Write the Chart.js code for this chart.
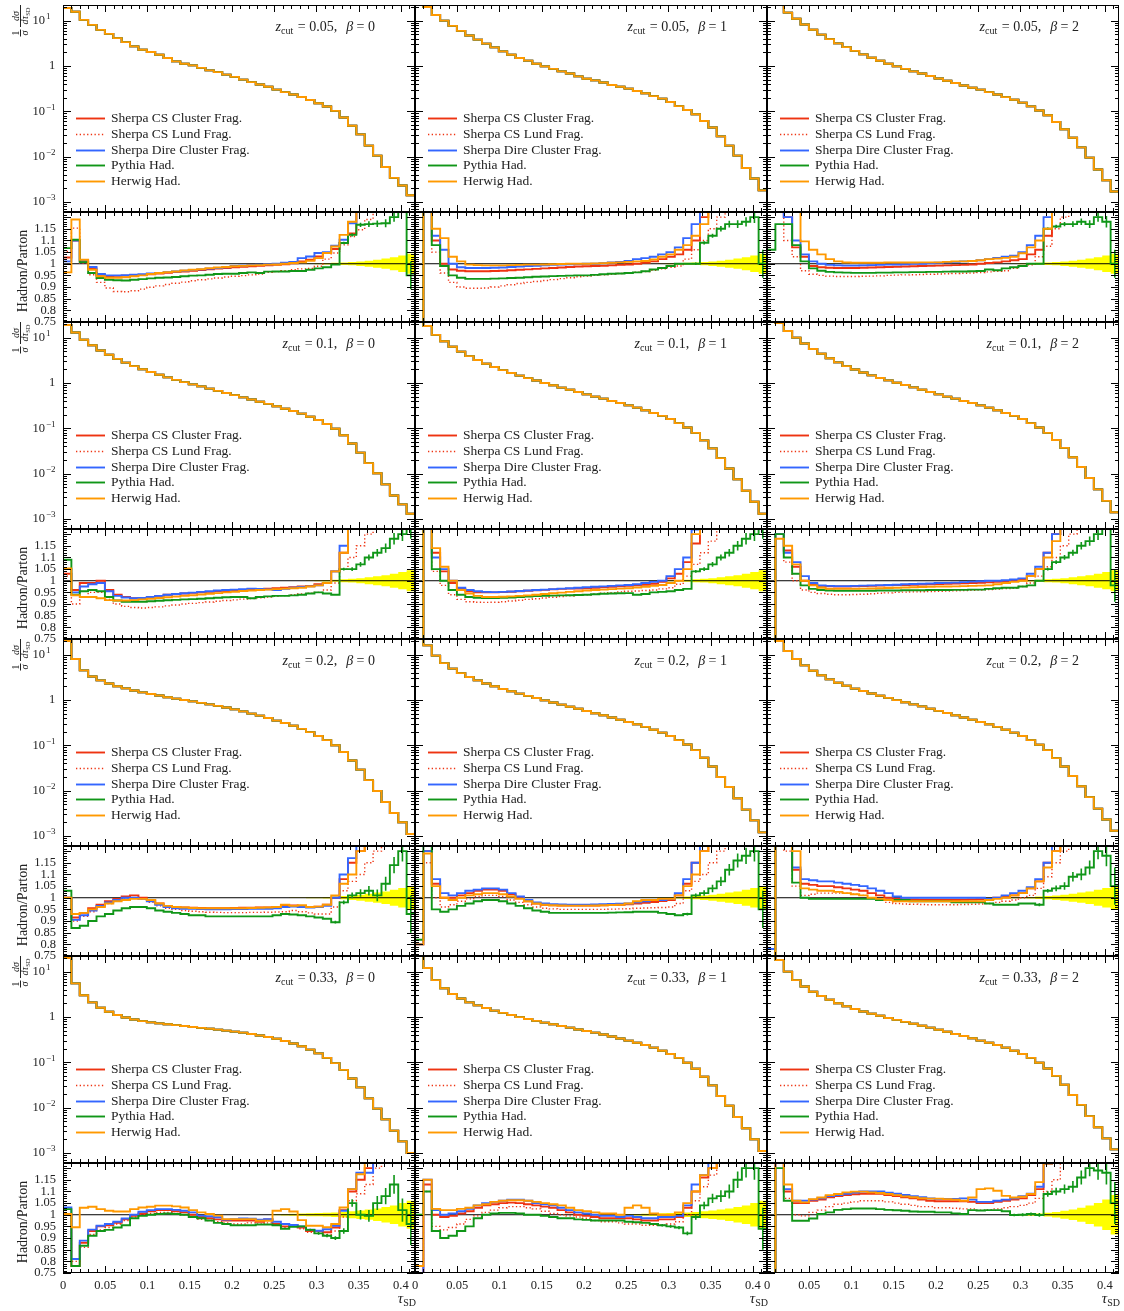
<!DOCTYPE html>
<html><head><meta charset="utf-8">
<script src="https://cdn.jsdelivr.net/npm/chart.js@4/dist/chart.umd.min.js"></script>
<style>
html,body{margin:0;padding:0;background:#fff;}
body{width:1124px;height:1311px;position:relative;overflow:hidden;}
canvas{position:absolute;}
</style></head><body>
<script>
// ---------------- categories / labels ----------------
const TAU_MAX = 0.41667;
const N_BINS = 42;
const zcutLabels = ['0.05', '0.1', '0.2', '0.33'];
const betaLabels = ['0', '1', '2'];
const seriesNames = ['Sherpa CS Cluster Frag.', 'Sherpa CS Lund Frag.', 'Sherpa Dire Cluster Frag.', 'Pythia Had.', 'Herwig Had.'];
const xTickLabels = ['0', '0.05', '0.1', '0.15', '0.2', '0.25', '0.3', '0.35', '0.4'];
const xTickValues = [0, 0.05, 0.1, 0.15, 0.2, 0.25, 0.3, 0.35, 0.4];
const ratioTickValues = [0.75, 0.8, 0.85, 0.9, 0.95, 1, 1.05, 1.1, 1.15];
const ratioTickLabels = ['0.75', '0.8', '0.85', '0.9', '0.95', '1', '1.05', '1.1', '1.15'];
const mainTickValues = [10, 1, 0.1, 0.01, 0.001];
const mainTickExp = ['1', '', '\u22121', '\u22122', '\u22123'];

// ---------------- main distributions (1/sigma dsigma/dtau) ----------------
const m005_0 = [19,15.7,10.4,8.05,6.26,5.1,4.1,3.36,2.7,2.28,2.03,1.77,1.5,1.26,1.12,1.03,0.905,0.8,0.73,0.645,0.575,0.5,0.44,0.39,0.347,0.3,0.265,0.235,0.206,0.177,0.15,0.127,0.102,0.073,0.048,0.031,0.0175,0.0105,0.0059,0.0034,0.0023,0.0014];
const m005_1 = [25,20,13.3,10,7.65,5.95,4.7,3.8,3.1,2.57,2.1,1.77,1.5,1.31,1.12,0.98,0.86,0.76,0.68,0.59,0.52,0.48,0.43,0.38,0.347,0.316,0.28,0.25,0.216,0.19,0.16,0.13,0.107,0.086,0.061,0.044,0.028,0.0175,0.0105,0.0056,0.0033,0.0018];
const m005_2 = [30,22,15,11,8.2,6.3,4.9,3.9,3.15,2.6,2.15,1.8,1.52,1.3,1.12,0.98,0.86,0.76,0.68,0.6,0.53,0.47,0.42,0.37,0.33,0.3,0.265,0.235,0.205,0.18,0.155,0.128,0.104,0.082,0.058,0.04,0.026,0.016,0.0095,0.0052,0.003,0.0017];
const m01_0 = [19,13,9,6.8,5.2,4.2,3.4,2.8,2.35,2,1.75,1.52,1.33,1.17,1.04,0.93,0.84,0.75,0.67,0.6,0.54,0.48,0.43,0.385,0.345,0.305,0.27,0.24,0.21,0.18,0.152,0.124,0.098,0.07,0.046,0.029,0.017,0.0102,0.0058,0.0033,0.0021,0.0013];
const m01_1 = [25,18,11.5,8.3,6.3,4.9,3.9,3.2,2.65,2.25,1.92,1.66,1.45,1.28,1.13,1,0.89,0.79,0.71,0.63,0.56,0.5,0.45,0.4,0.36,0.32,0.285,0.25,0.218,0.188,0.16,0.13,0.104,0.079,0.054,0.036,0.022,0.013,0.0075,0.0042,0.0024,0.0013];
const m01_2 = [30,21,14,10,7.4,5.6,4.4,3.5,2.85,2.35,1.98,1.7,1.47,1.29,1.14,1.01,0.9,0.8,0.71,0.63,0.56,0.5,0.45,0.4,0.36,0.32,0.285,0.25,0.218,0.188,0.16,0.13,0.104,0.079,0.055,0.037,0.023,0.014,0.008,0.0045,0.0025,0.0014];
const m02_0 = [20,8,4.5,3.3,2.7,2.3,2,1.8,1.62,1.47,1.35,1.25,1.15,1.07,1,0.93,0.86,0.8,0.74,0.68,0.62,0.56,0.5,0.45,0.4,0.35,0.31,0.27,0.23,0.195,0.16,0.13,0.1,0.071,0.046,0.029,0.017,0.0098,0.0056,0.0032,0.002,0.0011];
const m02_1 = [25,16,9.5,6.5,4.9,3.9,3.2,2.7,2.3,2,1.75,1.55,1.38,1.23,1.1,0.98,0.88,0.79,0.71,0.64,0.57,0.51,0.46,0.41,0.365,0.325,0.29,0.255,0.22,0.19,0.16,0.13,0.104,0.078,0.053,0.034,0.02,0.012,0.0068,0.0038,0.0022,0.0012];
const m02_2 = [30,20,12,8,5.8,4.4,3.5,2.85,2.4,2.05,1.78,1.57,1.39,1.24,1.11,0.99,0.89,0.8,0.72,0.64,0.575,0.515,0.46,0.41,0.365,0.325,0.29,0.255,0.22,0.19,0.16,0.13,0.103,0.078,0.052,0.034,0.021,0.0125,0.0072,0.004,0.0023,0.0013];
const m033_0 = [20,5.5,3,2.1,1.6,1.3,1.1,0.97,0.88,0.81,0.76,0.72,0.69,0.66,0.63,0.6,0.575,0.55,0.525,0.5,0.475,0.45,0.42,0.39,0.36,0.33,0.295,0.26,0.225,0.19,0.157,0.125,0.096,0.068,0.044,0.028,0.016,0.0095,0.0055,0.0031,0.0018,0.001];
const m033_1 = [25,12,6.5,4.3,3.2,2.55,2.1,1.8,1.57,1.38,1.23,1.1,0.99,0.9,0.82,0.75,0.69,0.63,0.58,0.53,0.49,0.45,0.41,0.37,0.335,0.3,0.27,0.24,0.21,0.18,0.152,0.125,0.098,0.072,0.048,0.031,0.018,0.011,0.0062,0.0035,0.002,0.0011];
const m033_2 = [30,18,10,6.5,4.7,3.6,2.9,2.4,2,1.72,1.5,1.32,1.18,1.06,0.95,0.86,0.78,0.71,0.64,0.58,0.52,0.47,0.42,0.38,0.34,0.3,0.27,0.24,0.21,0.18,0.152,0.125,0.098,0.073,0.05,0.032,0.019,0.0115,0.0065,0.0037,0.0021,0.0012];

// ---------------- ratios Hadron/Parton ----------------
// z_cut = 0.05, beta = 0
const r005_0_csc = [1.027,1.10,1.01,0.98,0.953,0.946,0.948,0.949,0.95,0.952,0.955,0.958,0.961,0.964,0.967,0.97,0.973,0.976,0.979,0.982,0.985,0.987,0.989,0.991,0.993,0.995,0.998,1.002,1.01,1.017,1.031,1.046,1.063,1.089,1.13,1.3,1.3,1.3,1.3,1.3,1.3,1.3];
const r005_0_csl = [1.053,1.153,1.003,0.953,0.92,0.896,0.881,0.88,0.884,0.891,0.899,0.905,0.911,0.916,0.921,0.927,0.931,0.935,0.939,0.943,0.946,0.949,0.952,0.956,0.963,0.966,0.97,0.974,0.978,0.98,0.989,1.02,1.046,1.081,1.117,1.146,1.19,1.3,1.3,1.3,1.3,1.3];
const r005_0_dire = [1.01,1.10,1.014,0.986,0.956,0.95,0.95,0.951,0.953,0.955,0.958,0.961,0.964,0.967,0.97,0.973,0.976,0.979,0.982,0.985,0.99,0.992,0.994,0.996,0.998,1.0,1.004,1.008,1.024,1.031,1.046,1.05,1.077,1.103,1.174,1.3,1.3,1.3,1.3,1.3,1.3,1.3];
const r005_0_py = [1.067,1.103,1.007,0.96,0.939,0.931,0.929,0.928,0.931,0.934,0.937,0.94,0.941,0.943,0.946,0.949,0.95,0.953,0.956,0.957,0.957,0.96,0.963,0.96,0.966,0.967,0.967,0.969,0.969,0.974,0.98,0.985,0.996,1.089,1.124,1.167,1.17,1.172,1.174,1.2,1.25,0.95];
const r005_0_hw = [0.963,1.19,1.017,0.974,0.946,0.94,0.94,0.942,0.946,0.95,0.956,0.96,0.964,0.967,0.971,0.974,0.977,0.981,0.984,0.986,0.989,0.991,0.993,0.994,0.996,0.997,1.0,1.003,1.006,1.013,1.024,1.046,1.074,1.124,1.18,1.3,1.3,1.3,1.3,1.3,1.3,1.3];
// z_cut = 0.05, beta = 1
const r005_1_csc = [0.7,1.3,1.1,1.0,0.975,0.97,0.968,0.968,0.968,0.969,0.97,0.972,0.974,0.976,0.978,0.98,0.982,0.984,0.986,0.988,0.989,0.99,0.991,0.993,0.995,0.997,1.0,1.004,1.01,1.02,1.03,1.04,1.06,1.1,1.2,1.3,1.3,1.3,1.3,1.3,1.3,1.3];
const r005_1_csl = [0.7,1.3,1.05,0.96,0.92,0.9,0.895,0.895,0.896,0.9,0.905,0.91,0.915,0.92,0.924,0.928,0.932,0.936,0.94,0.944,0.947,0.95,0.953,0.955,0.958,0.961,0.964,0.967,0.972,0.978,0.985,0.99,1.02,1.06,1.1,1.15,1.2,1.3,1.3,1.3,1.3,1.3];
const r005_1_dire = [0.7,1.3,1.12,1.06,1.0,0.985,0.982,0.982,0.982,0.983,0.984,0.986,0.988,0.99,0.991,0.993,0.995,0.996,0.998,0.999,1.0,1.0,1.002,1.005,1.008,1.012,1.02,1.024,1.03,1.04,1.05,1.07,1.11,1.17,1.3,1.3,1.3,1.3,1.3,1.3,1.3,1.3];
const r005_1_py = [0.7,1.3,1.08,0.99,0.95,0.94,0.935,0.935,0.935,0.936,0.937,0.939,0.94,0.942,0.944,0.945,0.947,0.948,0.949,0.95,0.95,0.952,0.955,0.957,0.958,0.96,0.963,0.968,0.975,0.982,0.99,1.0,1.0,1.0,1.09,1.12,1.15,1.17,1.17,1.18,1.2,1.0];
const r005_1_hw = [0.7,1.3,1.15,1.11,1.03,1.01,0.996,0.994,0.993,0.993,0.993,0.994,0.995,0.996,0.996,0.997,0.998,0.999,1.0,1.0,1.0,1.001,1.002,1.004,1.006,1.008,1.01,1.012,1.018,1.03,1.04,1.06,1.08,1.12,1.17,1.3,1.3,1.3,1.3,1.3,1.3,1.3];
// z_cut = 0.05, beta = 2
const r005_2_csc = [1.3,1.3,1.2,1.07,1.03,0.99,0.985,0.983,0.982,0.982,0.982,0.983,0.984,0.985,0.986,0.987,0.988,0.989,0.99,0.991,0.992,0.993,0.994,0.995,0.997,1.0,1.003,1.006,1.01,1.015,1.02,1.04,1.06,1.12,1.3,1.3,1.3,1.3,1.3,1.3,1.3,1.3];
const r005_2_csl = [1.3,1.3,1.1,1.03,0.97,0.955,0.95,0.947,0.945,0.945,0.945,0.946,0.947,0.948,0.95,0.951,0.952,0.953,0.954,0.955,0.956,0.957,0.958,0.959,0.96,0.962,0.965,0.968,0.97,0.98,0.99,0.995,1.03,1.075,1.15,1.2,1.3,1.3,1.3,1.3,1.3,1.3];
const r005_2_dire = [1.3,1.3,1.2,1.1,1.04,1.01,1.0,0.995,0.993,0.992,0.992,0.993,0.994,0.995,0.996,0.997,0.998,1.0,1.0,1.002,1.004,1.006,1.008,1.01,1.012,1.015,1.02,1.025,1.03,1.035,1.05,1.08,1.12,1.2,1.3,1.3,1.3,1.3,1.3,1.3,1.3,1.3];
const r005_2_py = [1.06,1.17,1.17,1.08,1.01,0.98,0.97,0.965,0.963,0.962,0.961,0.961,0.961,0.962,0.962,0.963,0.963,0.964,0.964,0.965,0.965,0.966,0.967,0.967,0.968,0.969,0.975,0.972,0.98,0.985,0.99,1.0,1.0,1.15,1.16,1.17,1.17,1.18,1.17,1.2,1.18,1.0];
const r005_2_hw = [1.3,1.3,1.3,1.3,1.096,1.06,1.04,1.02,1.01,1.005,1.004,1.004,1.004,1.004,1.005,1.005,1.005,1.005,1.006,1.006,1.006,1.008,1.01,1.01,1.012,1.015,1.02,1.022,1.025,1.03,1.045,1.07,1.1,1.15,1.3,1.3,1.3,1.3,1.3,1.3,1.3,1.3];
// z_cut = 0.1, beta = 0
const r01_0_csc = [1.03,0.96,0.99,0.99,1.0,0.96,0.94,0.93,0.925,0.925,0.93,0.935,0.94,0.942,0.945,0.948,0.95,0.952,0.955,0.956,0.958,0.96,0.962,0.964,0.966,0.968,0.97,0.972,0.975,0.978,0.985,0.99,1.04,1.12,1.3,1.3,1.3,1.3,1.3,1.3,1.3,1.3];
const r01_0_csl = [1.02,0.9,0.93,0.95,0.95,0.92,0.9,0.89,0.885,0.883,0.885,0.888,0.892,0.896,0.9,0.903,0.906,0.909,0.912,0.915,0.918,0.921,0.924,0.927,0.93,0.933,0.936,0.94,0.943,0.946,0.95,0.96,0.99,1.05,1.1,1.15,1.2,1.3,1.3,1.3,1.3,1.3];
const r01_0_dire = [1.05,0.95,0.975,0.985,0.99,0.955,0.935,0.928,0.925,0.926,0.93,0.935,0.94,0.943,0.946,0.949,0.952,0.955,0.958,0.96,0.962,0.964,0.966,0.965,0.963,0.96,0.965,0.97,0.973,0.976,0.98,0.99,1.04,1.15,1.3,1.3,1.3,1.3,1.3,1.3,1.3,1.3];
const r01_0_py = [1.09,0.94,0.955,0.96,0.955,0.93,0.915,0.91,0.91,0.91,0.912,0.914,0.916,0.918,0.92,0.921,0.923,0.925,0.927,0.929,0.93,0.93,0.925,0.93,0.933,0.935,0.935,0.937,0.94,0.945,0.95,0.945,0.94,1.05,1.05,1.07,1.1,1.12,1.14,1.18,1.2,1.25];
const r01_0_hw = [1.053,0.938,0.93,0.93,0.925,0.917,0.915,0.915,0.917,0.92,0.923,0.926,0.929,0.932,0.935,0.938,0.941,0.944,0.947,0.95,0.953,0.956,0.958,0.96,0.962,0.964,0.966,0.968,0.97,0.975,0.98,0.99,1.04,1.12,1.3,1.3,1.3,1.3,1.3,1.3,1.3,1.3];
// z_cut = 0.1, beta = 1
const r01_1_csc = [0.7,1.3,1.12,1.04,0.99,0.965,0.955,0.95,0.95,0.95,0.951,0.953,0.955,0.957,0.959,0.961,0.963,0.965,0.966,0.967,0.968,0.97,0.972,0.974,0.976,0.978,0.98,0.983,0.987,0.995,1.01,1.03,1.08,1.16,1.3,1.3,1.3,1.3,1.3,1.3,1.3,1.3];
const r01_1_csl = [0.7,1.3,1.04,0.98,0.94,0.92,0.91,0.908,0.907,0.908,0.91,0.913,0.916,0.92,0.923,0.926,0.929,0.932,0.935,0.938,0.94,0.943,0.946,0.949,0.952,0.955,0.956,0.958,0.96,0.965,0.97,0.985,1.02,1.07,1.12,1.17,1.3,1.3,1.3,1.3,1.3,1.3];
const r01_1_dire = [0.7,1.3,1.1,1.05,1.0,0.97,0.96,0.955,0.952,0.951,0.952,0.954,0.956,0.958,0.96,0.962,0.964,0.966,0.968,0.97,0.972,0.974,0.976,0.978,0.98,0.982,0.985,0.99,0.995,1.0,1.02,1.05,1.1,1.22,1.3,1.3,1.3,1.3,1.3,1.3,1.3,1.3];
const r01_1_py = [0.7,1.3,1.05,1.0,0.96,0.94,0.93,0.927,0.926,0.926,0.927,0.928,0.93,0.932,0.934,0.935,0.936,0.937,0.938,0.939,0.94,0.942,0.944,0.945,0.946,0.947,0.94,0.943,0.95,0.952,0.955,0.96,0.965,1.04,1.05,1.07,1.1,1.12,1.15,1.18,1.2,1.25];
const r01_1_hw = [0.7,1.3,1.14,1.06,1.0,0.96,0.945,0.935,0.93,0.93,0.931,0.933,0.935,0.937,0.94,0.943,0.946,0.949,0.952,0.955,0.958,0.96,0.962,0.964,0.966,0.968,0.971,0.974,0.978,0.982,0.99,1.0,1.05,1.2,1.3,1.3,1.3,1.3,1.3,1.3,1.3,1.3];
// z_cut = 0.1, beta = 2
const r01_2_csc = [0.7,1.2,1.13,1.06,1.0,0.985,0.978,0.976,0.975,0.975,0.976,0.977,0.978,0.979,0.98,0.981,0.982,0.983,0.984,0.985,0.986,0.987,0.988,0.989,0.99,0.991,0.993,0.995,0.997,1.0,1.005,1.02,1.05,1.12,1.2,1.3,1.3,1.3,1.3,1.3,1.3,1.3];
const r01_2_csl = [0.7,1.2,1.08,1.0,0.96,0.95,0.945,0.942,0.94,0.94,0.941,0.942,0.944,0.946,0.948,0.95,0.951,0.952,0.953,0.954,0.955,0.956,0.957,0.958,0.959,0.96,0.962,0.964,0.966,0.968,0.975,0.99,1.02,1.06,1.1,1.15,1.2,1.3,1.3,1.3,1.3,1.3];
const r01_2_dire = [0.7,1.2,1.12,1.08,1.02,0.99,0.98,0.978,0.977,0.977,0.978,0.979,0.98,0.981,0.982,0.983,0.985,0.986,0.987,0.988,0.99,0.991,0.992,0.994,0.996,0.998,1.0,1.0,1.002,1.005,1.01,1.03,1.06,1.12,1.2,1.3,1.3,1.3,1.3,1.3,1.3,1.3];
const r01_2_py = [0.75,1.2,1.1,1.03,0.98,0.965,0.96,0.958,0.957,0.957,0.957,0.957,0.957,0.958,0.958,0.958,0.959,0.959,0.959,0.96,0.96,0.96,0.961,0.961,0.962,0.962,0.965,0.968,0.97,0.97,0.975,0.98,1.0,1.05,1.08,1.1,1.12,1.15,1.17,1.2,1.25,0.98];
const r01_2_hw = [0.7,1.18,1.15,1.07,1.0,0.98,0.97,0.965,0.965,0.965,0.965,0.966,0.967,0.968,0.969,0.97,0.971,0.972,0.973,0.974,0.975,0.975,0.976,0.977,0.978,0.979,0.98,0.985,0.99,0.995,1.0,1.02,1.05,1.1,1.17,1.3,1.3,1.3,1.3,1.3,1.3,1.3];
// z_cut = 0.2, beta = 0
const r02_0_csc = [1.0,0.915,0.935,0.955,0.97,0.985,0.995,1.005,1.01,1.0,0.99,0.975,0.965,0.96,0.958,0.957,0.956,0.955,0.955,0.955,0.956,0.957,0.957,0.958,0.958,0.96,0.965,0.967,0.965,0.96,0.962,0.97,1.0,1.08,1.15,1.2,1.3,1.3,1.3,1.3,1.3,1.3];
const r02_0_csl = [1.0,0.9,0.92,0.94,0.96,0.975,0.99,1.0,1.0,0.995,0.98,0.965,0.955,0.95,0.945,0.942,0.94,0.938,0.937,0.936,0.936,0.936,0.937,0.937,0.938,0.939,0.94,0.945,0.94,0.935,0.93,0.93,0.96,1.03,1.07,1.1,1.15,1.2,1.3,1.3,1.3,1.3];
const r02_0_dire = [1.0,0.905,0.925,0.945,0.965,0.98,0.99,1.0,1.0,0.995,0.985,0.97,0.96,0.955,0.953,0.952,0.951,0.95,0.95,0.95,0.951,0.951,0.952,0.952,0.953,0.955,0.96,0.962,0.96,0.958,0.96,0.965,1.0,1.1,1.17,1.3,1.3,1.3,1.3,1.3,1.3,1.3];
const r02_0_py = [1.03,0.87,0.88,0.9,0.92,0.93,0.945,0.955,0.96,0.96,0.955,0.945,0.94,0.935,0.93,0.925,0.925,0.92,0.92,0.92,0.92,0.92,0.92,0.92,0.92,0.925,0.93,0.928,0.925,0.92,0.915,0.91,0.895,0.98,1.01,1.02,1.03,1.01,1.06,1.14,1.2,0.93];
const r02_0_hw = [1.0,0.93,0.935,0.95,0.96,0.975,0.985,0.99,0.995,0.995,0.99,0.975,0.965,0.96,0.958,0.956,0.955,0.955,0.955,0.955,0.955,0.955,0.956,0.957,0.958,0.96,0.97,0.965,0.968,0.96,0.962,0.97,1.01,1.06,1.1,1.2,1.3,1.3,1.3,1.3,1.3,1.3];
// z_cut = 0.2, beta = 1
const r02_1_csc = [0.8,1.2,1.06,1.0,1.0,1.01,1.02,1.03,1.035,1.035,1.03,1.015,1.0,0.985,0.975,0.97,0.968,0.967,0.966,0.966,0.966,0.967,0.968,0.969,0.97,0.972,0.975,0.978,0.982,0.986,0.99,1.01,1.06,1.15,1.2,1.3,1.3,1.3,1.3,1.3,1.3,1.3];
const r02_1_csl = [0.8,1.15,1.0,0.96,0.97,0.985,0.995,1.005,1.01,1.01,1.005,0.99,0.98,0.97,0.96,0.955,0.952,0.95,0.95,0.95,0.95,0.95,0.95,0.951,0.952,0.953,0.955,0.956,0.957,0.958,0.96,0.975,1.03,1.07,1.1,1.15,1.2,1.3,1.3,1.3,1.3,1.3];
const r02_1_dire = [0.8,1.2,1.08,1.02,1.01,1.02,1.03,1.035,1.04,1.04,1.035,1.02,1.005,0.99,0.98,0.975,0.972,0.971,0.97,0.97,0.97,0.971,0.972,0.973,0.974,0.975,0.98,0.985,0.99,0.99,0.995,1.02,1.08,1.15,1.3,1.3,1.3,1.3,1.3,1.3,1.3,1.3];
const r02_1_py = [0.82,1.3,0.95,0.94,0.95,0.965,0.975,0.985,0.99,0.99,0.985,0.975,0.965,0.955,0.945,0.94,0.935,0.935,0.935,0.935,0.935,0.935,0.935,0.936,0.937,0.938,0.94,0.94,0.94,0.935,0.93,0.925,0.93,1.01,1.02,1.04,1.07,1.12,1.16,1.18,1.2,0.95];
const r02_1_hw = [0.8,1.19,1.05,1.0,0.99,1.0,1.01,1.015,1.02,1.02,1.015,1.005,0.995,0.985,0.975,0.97,0.968,0.967,0.966,0.966,0.966,0.967,0.968,0.969,0.97,0.975,0.985,0.99,0.99,0.995,0.995,1.01,1.05,1.1,1.2,1.3,1.3,1.3,1.3,1.3,1.3,1.3];
// z_cut = 0.2, beta = 2
const r02_2_csc = [0.75,1.3,1.3,1.12,1.06,1.055,1.05,1.05,1.045,1.04,1.035,1.03,1.02,1.01,1.0,0.995,0.993,0.992,0.991,0.99,0.99,0.99,0.99,0.991,0.992,0.993,0.995,1.0,1.005,1.01,1.02,1.04,1.07,1.15,1.2,1.3,1.3,1.3,1.3,1.3,1.3,1.3];
const r02_2_csl = [0.75,1.3,1.2,1.05,1.01,1.015,1.02,1.02,1.02,1.02,1.015,1.01,1.0,0.99,0.98,0.975,0.973,0.972,0.971,0.97,0.97,0.97,0.97,0.971,0.972,0.973,0.975,0.98,0.985,0.99,1.0,1.01,1.04,1.09,1.15,1.2,1.3,1.3,1.3,1.3,1.3,1.3];
const r02_2_dire = [0.78,1.3,1.3,1.13,1.08,1.075,1.07,1.07,1.065,1.06,1.055,1.05,1.04,1.03,1.02,1.005,1.0,1.0,1.0,1.0,1.0,1.0,1.0,1.0,1.0,1.0,0.995,1.0,1.01,1.02,1.03,1.045,1.08,1.15,1.3,1.3,1.3,1.3,1.3,1.3,1.3,1.3];
const r02_2_py = [0.75,1.3,1.3,1.065,1.0,0.995,0.995,0.995,0.995,0.995,0.995,0.995,0.995,0.99,0.99,0.99,0.99,0.985,0.985,0.985,0.985,0.985,0.98,0.98,0.98,0.98,0.975,0.97,0.97,0.97,0.975,0.975,0.97,1.03,1.04,1.05,1.09,1.1,1.13,1.2,1.18,1.05];
const r02_2_hw = [0.75,1.3,1.3,1.2,1.04,1.035,1.03,1.03,1.025,1.02,1.015,1.01,1.0,0.995,0.99,0.985,0.985,0.985,0.985,0.985,0.985,0.985,0.985,0.985,0.985,0.985,0.99,0.995,1.0,1.01,1.02,1.04,1.07,1.13,1.2,1.3,1.3,1.3,1.3,1.3,1.3,1.3];
// z_cut = 0.33, beta = 0
const r033_0_csc = [1.0,0.78,0.88,0.93,0.95,0.955,0.965,0.98,0.995,1.005,1.015,1.02,1.02,1.015,1.01,1.0,0.99,0.985,0.98,0.975,0.975,0.975,0.975,0.97,0.98,0.96,0.95,0.955,0.945,0.93,0.93,0.925,0.945,1.02,1.1,1.15,1.2,1.3,1.3,1.3,1.3,1.3];
const r033_0_csl = [1.0,0.8,0.86,0.915,0.935,0.945,0.96,0.975,0.99,1.0,1.005,1.01,1.01,1.005,1.0,0.99,0.98,0.975,0.97,0.965,0.96,0.96,0.965,0.96,0.965,0.955,0.945,0.95,0.94,0.925,0.92,0.915,0.93,0.99,1.06,1.09,1.13,1.2,1.3,1.3,1.3,1.3];
const r033_0_dire = [1.031,0.81,0.889,0.936,0.953,0.96,0.97,0.984,1.0,1.013,1.02,1.024,1.024,1.021,1.017,1.01,0.996,0.993,0.989,0.979,0.981,0.984,0.983,0.979,0.981,0.97,0.96,0.956,0.95,0.936,0.931,0.938,0.953,1.017,1.11,1.18,1.18,1.3,1.3,1.3,1.3,1.3];
const r033_0_py = [1.024,0.78,0.867,0.91,0.93,0.935,0.945,0.955,0.985,0.995,1.0,1.003,1.005,1.003,1.0,0.99,0.985,0.975,0.965,0.96,0.955,0.955,0.955,0.958,0.958,0.955,0.94,0.948,0.95,0.935,0.92,0.91,0.9,0.93,1.05,1.0,0.995,1.05,1.08,1.13,1.02,0.96];
const r033_0_hw = [1.003,0.946,1.03,1.034,1.024,1.017,1.014,1.014,1.024,1.031,1.034,1.039,1.039,1.036,1.031,1.02,1.01,1.003,0.996,0.981,0.981,0.981,0.981,0.974,0.974,1.017,1.024,1.014,0.977,0.953,0.953,0.946,0.96,1.031,1.11,1.174,1.3,1.3,1.3,1.3,1.3,1.3];
// z_cut = 0.33, beta = 1
const r033_1_csc = [0.75,1.13,1.0,0.99,0.995,1.005,1.015,1.03,1.04,1.045,1.05,1.052,1.05,1.045,1.04,1.035,1.03,1.02,1.01,1.0,0.995,0.99,0.985,0.985,0.985,0.985,0.98,0.975,0.975,0.98,0.98,0.99,1.03,1.1,1.16,1.2,1.3,1.3,1.3,1.3,1.3,1.3];
const r033_1_csl = [0.75,1.1,0.95,0.935,0.945,0.96,0.98,0.995,1.01,1.02,1.03,1.035,1.035,1.03,1.025,1.015,1.005,1.0,0.995,0.99,0.985,0.975,0.97,0.97,0.965,0.96,0.96,0.955,0.955,0.955,0.96,0.97,1.0,1.06,1.12,1.17,1.3,1.3,1.3,1.3,1.3,1.3];
const r033_1_dire = [0.75,1.15,1.02,1.0,1.005,1.015,1.025,1.04,1.05,1.055,1.06,1.065,1.065,1.06,1.05,1.045,1.04,1.03,1.02,1.01,1.005,1.0,0.995,0.995,0.99,0.995,0.99,0.985,0.985,0.99,0.99,0.995,1.04,1.13,1.17,1.3,1.3,1.3,1.3,1.3,1.3,1.3];
const r033_1_py = [1.0,1.1,0.93,0.9,0.91,0.93,0.95,0.985,1.0,1.005,1.008,1.008,1.005,1.0,1.0,0.995,0.99,0.985,0.985,0.98,0.978,0.975,0.975,0.975,0.975,0.97,0.968,0.965,0.96,0.955,0.95,0.945,0.92,0.99,1.04,1.07,1.08,1.1,1.15,1.2,1.2,0.94];
const r033_1_hw = [0.78,1.15,1.025,1.02,1.02,1.025,1.03,1.04,1.045,1.055,1.06,1.062,1.062,1.06,1.055,1.05,1.045,1.04,1.03,1.02,1.015,1.01,1.005,1.005,1.0,1.03,1.04,1.03,1.005,1.0,1.0,1.01,1.05,1.1,1.17,1.2,1.3,1.3,1.3,1.3,1.3,1.3];
// z_cut = 0.33, beta = 2
const r033_2_csc = [0.75,1.3,1.1,1.05,1.05,1.06,1.065,1.075,1.08,1.085,1.088,1.09,1.09,1.09,1.085,1.08,1.075,1.07,1.065,1.06,1.058,1.058,1.058,1.058,1.055,1.05,1.05,1.055,1.06,1.065,1.07,1.085,1.11,1.22,1.3,1.3,1.3,1.3,1.3,1.3,1.3,1.3];
const r033_2_csl = [0.75,1.3,1.07,1.0,0.995,1.01,1.02,1.035,1.045,1.05,1.055,1.06,1.06,1.06,1.055,1.05,1.045,1.04,1.035,1.035,1.03,1.03,1.028,1.025,1.025,1.02,1.022,1.025,1.03,1.035,1.04,1.05,1.07,1.1,1.15,1.3,1.3,1.3,1.3,1.3,1.3,1.3];
const r033_2_dire = [0.75,1.3,1.11,1.06,1.06,1.065,1.07,1.08,1.085,1.09,1.095,1.1,1.1,1.1,1.095,1.09,1.085,1.08,1.075,1.07,1.068,1.068,1.068,1.07,1.065,1.055,1.055,1.06,1.065,1.07,1.08,1.09,1.12,1.22,1.3,1.3,1.3,1.3,1.3,1.3,1.3,1.3];
const r033_2_py = [0.75,1.2,1.06,0.974,0.974,0.984,1.003,1.01,1.021,1.024,1.027,1.027,1.027,1.024,1.021,1.019,1.017,1.014,1.013,1.013,1.01,1.01,1.006,1.003,1.02,1.018,1.02,1.02,1.015,0.999,1.0,1.003,0.999,1.089,1.1,1.11,1.12,1.16,1.2,1.19,1.18,1.05];
const r033_2_hw = [0.75,1.3,1.13,1.06,1.053,1.067,1.074,1.084,1.089,1.096,1.099,1.099,1.096,1.093,1.089,1.084,1.079,1.075,1.071,1.069,1.069,1.067,1.064,1.06,1.074,1.11,1.113,1.103,1.081,1.074,1.077,1.089,1.14,1.22,1.3,1.3,1.3,1.3,1.3,1.3,1.3,1.3];

// parton-level statistical band (half width) and Pythia error bars
const bandRow1 = [0,0,0,0,0,0,0,0,0,0,0,0,0,0,0,0,0,0,0,0,0,0,0,0,0,0,0,0,0,0.001,0.002,0.003,0.004,0.005,0.007,0.01,0.013,0.017,0.022,0.028,0.035,0.043];
const bandRow2 = [0,0,0,0,0,0,0,0,0,0,0,0,0,0,0,0,0,0,0,0,0,0,0,0,0,0,0,0,0,0.001,0.002,0.003,0.004,0.006,0.008,0.011,0.015,0.019,0.024,0.03,0.037,0.045];
const bandRow3 = [0,0,0,0,0,0,0,0,0,0,0,0,0,0,0,0,0,0,0,0,0,0,0,0,0,0,0,0.001,0.001,0.002,0.002,0.003,0.005,0.007,0.01,0.013,0.017,0.022,0.027,0.034,0.042,0.05];
const bandRow4 = [0,0,0,0,0,0,0,0,0,0,0,0,0,0,0,0,0,0,0,0,0,0,0,0,0,0.002,0.003,0.004,0.005,0.006,0.007,0.008,0.01,0.012,0.015,0.018,0.022,0.027,0.033,0.04,0.05,0.06];
const bandRow4b = [0,0,0,0,0,0,0,0,0,0,0,0,0,0,0,0,0,0,0,0,0,0,0,0,0,0,0,0,0,0.002,0.003,0.004,0.005,0.008,0.012,0.017,0.023,0.03,0.04,0.05,0.065,0.085];
const errRow1 = [0,0,0,0,0,0,0,0,0,0,0,0,0,0,0,0,0,0,0,0,0,0,0,0,0,0,0,0,0,0,0,0,0,0.005,0.007,0.009,0.012,0.014,0.017,0.02,0.025,0.06];
const errRow2 = [0,0,0,0,0,0,0,0,0,0,0,0,0,0,0,0,0,0,0,0,0,0,0,0,0,0,0,0,0,0,0,0,0,0.006,0.008,0.01,0.013,0.016,0.02,0.025,0.03,0.07];
const errRow3 = [0,0,0,0,0,0,0,0,0,0,0,0,0,0,0,0,0,0,0,0,0,0,0,0,0,0,0,0,0,0,0,0,0.006,0.008,0.012,0.016,0.02,0.025,0.03,0.035,0.045,0.08];
const errRow4 = [0,0,0,0,0,0,0,0,0,0,0,0,0,0,0,0,0,0,0,0,0,0,0,0,0,0,0,0,0,0.005,0.006,0.007,0.008,0.012,0.016,0.02,0.025,0.03,0.035,0.04,0.05,0.09];

// ---------------- assembly ----------------
const mainData = [[m005_0, m005_1, m005_2], [m01_0, m01_1, m01_2], [m02_0, m02_1, m02_2], [m033_0, m033_1, m033_2]];
const ratioData = [
  [[r005_0_csc, r005_0_csl, r005_0_dire, r005_0_py, r005_0_hw], [r005_1_csc, r005_1_csl, r005_1_dire, r005_1_py, r005_1_hw], [r005_2_csc, r005_2_csl, r005_2_dire, r005_2_py, r005_2_hw]],
  [[r01_0_csc, r01_0_csl, r01_0_dire, r01_0_py, r01_0_hw], [r01_1_csc, r01_1_csl, r01_1_dire, r01_1_py, r01_1_hw], [r01_2_csc, r01_2_csl, r01_2_dire, r01_2_py, r01_2_hw]],
  [[r02_0_csc, r02_0_csl, r02_0_dire, r02_0_py, r02_0_hw], [r02_1_csc, r02_1_csl, r02_1_dire, r02_1_py, r02_1_hw], [r02_2_csc, r02_2_csl, r02_2_dire, r02_2_py, r02_2_hw]],
  [[r033_0_csc, r033_0_csl, r033_0_dire, r033_0_py, r033_0_hw], [r033_1_csc, r033_1_csl, r033_1_dire, r033_1_py, r033_1_hw], [r033_2_csc, r033_2_csl, r033_2_dire, r033_2_py, r033_2_hw]]
];
const bandData = [[bandRow1, bandRow1, bandRow1], [bandRow2, bandRow2, bandRow2], [bandRow3, bandRow3, bandRow3], [bandRow4, bandRow4, bandRow4b]];
const errData = [errRow1, errRow2, errRow3, errRow4];

// ---------------- styling ----------------
const COLORS = ['#EE3311', '#EE3311', '#3366FF', '#109618', '#FF9900'];
const DASHES = [[], [1.3, 2.4], [], [], []];
const ORDERS = [4, 3, 2, 1, 0];
const LW = 1.9;
const SERIF = '"Liberation Serif", "DejaVu Serif", serif';
const COL_LEFT = [63, 415, 767];
const PANEL_W = 352;
const ROW_TOP = [5, 322, 639, 956];
const MAIN_H = 207, RATIO_H = 110;
const MAIN_MIN = 6.45e-4, MAIN_MAX = 22.1;
const RATIO_MIN = 0.75, RATIO_MAX = 1.222;

const binEdges = Array.from({length: N_BINS + 1}, (_, i) => i * TAU_MAX / N_BINS);
function histPoints(vals) {
  const pts = [];
  vals.forEach((v, i) => { pts.push({x: binEdges[i], y: v}, {x: binEdges[i + 1], y: v}); });
  return pts;
}
function bandPoints(half, sign) {
  const pts = [];
  half.forEach((h, i) => { const v = 1 + sign * h; pts.push({x: binEdges[i], y: v}, {x: binEdges[i + 1], y: v}); });
  return pts;
}
function errPoints(vals, errs) {
  const pts = [];
  vals.forEach((v, i) => {
    const e = errs[i];
    if (e > 0) { const c = (binEdges[i] + binEdges[i + 1]) / 2; pts.push({x: c, y: v - e}, {x: c, y: v + e}, {x: c, y: null}); }
  });
  return pts;
}

function drawRich(ctx, parts, x, y, align) {
  ctx.save();
  ctx.textAlign = 'left';
  let total = 0;
  parts.forEach(p => { ctx.font = p.f; p.w = ctx.measureText(p.t).width + (p.gap || 0); total += p.w; });
  let cx = align === 'right' ? x - total : (align === 'center' ? x - total / 2 : x);
  parts.forEach(p => { ctx.font = p.f; ctx.fillText(p.t, cx, y + (p.dy || 0)); cx += p.w; });
  ctx.restore();
}

const rivetPlugin = {
  id: 'rivet',
  afterDraw(chart, args, o) {
    const ctx = chart.ctx, a = chart.chartArea, xs = chart.scales.x, ys = chart.scales.y;
    ctx.save();
    ctx.strokeStyle = '#000'; ctx.lineWidth = 1; ctx.setLineDash([]);
    const seg = (x1, y1, x2, y2) => { ctx.beginPath(); ctx.moveTo(x1, y1); ctx.lineTo(x2, y2); ctx.stroke(); };
    // x ticks (minor 0.01, major 0.05)
    for (let i = 0; i <= 41; i++) {
      const px = Math.round(xs.getPixelForValue(i / 100)) + 0.5;
      if (px > a.right) break;
      const L = i % 5 === 0 ? 7 : 4;
      seg(px, a.bottom, px, a.bottom - L); seg(px, a.top, px, a.top + L);
    }
    if (o.kind === 'main') {
      for (let d = -4; d <= 1; d++) for (let k = 1; k <= 9; k++) {
        const v = k * Math.pow(10, d);
        if (v < ys.min || v > ys.max) continue;
        const py = Math.round(ys.getPixelForValue(v)) + 0.5; const L = k === 1 ? 8 : 4;
        seg(a.left, py, a.left + L, py); seg(a.right, py, a.right - L, py);
      }
    } else {
      for (let i = 75; i <= 122; i++) {
        const py = Math.round(ys.getPixelForValue(i / 100)) + 0.5; const L = i % 5 === 0 ? 8 : 4;
        seg(a.left, py, a.left + L, py); seg(a.right, py, a.right - L, py);
      }
    }
    // frame
    ctx.strokeRect(a.left + 0.5, a.top + 0.5, a.right - a.left - 1, a.bottom - a.top - 1);
    ctx.fillStyle = '#222';
    // y tick labels
    if (o.yLabels) {
      ctx.textBaseline = 'middle';
      if (o.kind === 'main') {
        mainTickValues.forEach((v, i) => {
          const py = ys.getPixelForValue(v);
          if (mainTickExp[i] === '') { ctx.font = `12.5px ${SERIF}`; ctx.textAlign = 'center'; ctx.fillText('1', a.left - 11, py); }
          else {
            ctx.textAlign = 'right'; ctx.font = `12.5px ${SERIF}`; ctx.fillText('10', a.left - 18, py);
            ctx.textAlign = 'left'; ctx.font = `9px ${SERIF}`; ctx.fillText(mainTickExp[i], a.left - 17, py - 4);
          }
        });
        // y axis title: 1/sigma dsigma/dtau_SD (rotated)
        ctx.save(); ctx.translate(a.left - 42.5, a.top + 32); ctx.rotate(-Math.PI / 2);
        ctx.textAlign = 'center'; ctx.textBaseline = 'alphabetic';
        ctx.fillRect(0.5, -0.5, 7, 1); ctx.fillRect(10, -0.5, 22, 1);
        ctx.font = `9.5px ${SERIF}`; ctx.fillText('1', 4, -2);
        ctx.font = `italic 10px ${SERIF}`; ctx.fillText('\u03C3', 4, 7.5);
        ctx.fillText('d\u03C3', 21, -2);
        drawRich(ctx, [{t: 'd\u03C4', f: `italic 10px ${SERIF}`}, {t: 'SD', f: `6.5px ${SERIF}`, dy: 2}], 21, 7.5, 'center');
        ctx.restore();
      } else {
        ctx.textAlign = 'right'; ctx.font = `12.5px ${SERIF}`;
        ratioTickValues.forEach((v, i) => ctx.fillText(ratioTickLabels[i], a.left - 7, ys.getPixelForValue(v)));
        ctx.save(); ctx.translate(a.left - 36, (a.top + a.bottom) / 2 + 4); ctx.rotate(-Math.PI / 2);
        ctx.textAlign = 'center'; ctx.textBaseline = 'alphabetic'; ctx.font = `14px ${SERIF}`;
        ctx.fillText('Hadron/Parton', 0, 0); ctx.restore();
      }
    }
    // x tick labels + axis title
    if (o.xLabels) {
      ctx.textAlign = 'center'; ctx.textBaseline = 'alphabetic'; ctx.font = `12.5px ${SERIF}`;
      xTickValues.forEach((v, i) => ctx.fillText(xTickLabels[i], xs.getPixelForValue(v), a.bottom + 16));
      drawRich(ctx, [{t: '\u03C4', f: `italic 15px ${SERIF}`}, {t: 'SD', f: `10px ${SERIF}`, dy: 3}], a.right + 1, a.bottom + 30, 'right');
    }
    if (o.kind === 'main') {
      // legend
      seriesNames.forEach((name, k) => {
        const yc = a.top + 113 + 15.8 * k;
        ctx.strokeStyle = COLORS[k]; ctx.lineWidth = k === 1 ? 1.4 : LW; ctx.setLineDash(DASHES[k]);
        seg(a.left + 13, Math.round(yc) + 0.5, a.left + 42, Math.round(yc) + 0.5);
        ctx.setLineDash([]);
        ctx.fillStyle = '#222'; ctx.font = `13.5px ${SERIF}`; ctx.textAlign = 'left'; ctx.textBaseline = 'middle';
        ctx.fillText(name, a.left + 48, yc + 0.5);
      });
      // panel label
      ctx.textBaseline = 'alphabetic'; ctx.fillStyle = '#222';
      drawRich(ctx, [
        {t: 'z', f: `italic 14px ${SERIF}`},
        {t: 'cut', f: `10px ${SERIF}`, dy: 3, gap: 1},
        {t: ' = ' + o.z + ',', f: `14px ${SERIF}`, gap: 9},
        {t: '\u03B2', f: `italic 14px ${SERIF}`},
        {t: ' = ' + o.b, f: `14px ${SERIF}`}
      ], a.right - 40, a.top + 26, 'right');
    }
    ctx.restore();
  }
};

function lineDs(data, color, dash, order, width) {
  return {data, borderColor: color, borderWidth: width, borderDash: dash, pointRadius: 0, fill: false, order, tension: 0, borderJoinStyle: 'miter', spanGaps: false};
}

function makeChart(left, top, w, h, pad, datasets, yScale, pluginOpts) {
  const c = document.createElement('canvas');
  c.width = w + pad.l + pad.r; c.height = h + pad.t + pad.b;
  c.style.left = (left - pad.l) + 'px'; c.style.top = (top - pad.t) + 'px';
  c.style.width = c.width + 'px'; c.style.height = c.height + 'px';
  document.body.appendChild(c);
  return new Chart(c, {
    type: 'line',
    data: {datasets},
    options: {
      responsive: false, animation: false, devicePixelRatio: 1, events: [],
      layout: {padding: {left: pad.l, right: pad.r, top: pad.t, bottom: pad.b}},
      scales: {
        x: {type: 'linear', min: 0, max: TAU_MAX, display: false},
        y: Object.assign({display: false}, yScale)
      },
      plugins: {legend: {display: false}, tooltip: {enabled: false}, title: {display: false}, rivet: pluginOpts}
    },
    plugins: [rivetPlugin]
  });
}

for (let r = 0; r < 4; r++) {
  for (let c = 0; c < 3; c++) {
    const left = COL_LEFT[c];
    const padL = c === 0 ? 63 : 3, padR = c === 2 ? 5 : 3;
    // main panel: all five hadron-level curves
    const mainDs = [];
    for (let k = 0; k < 5; k++) mainDs.push(lineDs(histPoints(mainData[r][c]), COLORS[k], DASHES[k], ORDERS[k], k === 1 ? 1.4 : LW));
    makeChart(left, ROW_TOP[r], PANEL_W, MAIN_H, {l: padL, r: padR, t: r === 0 ? 5 : 3, b: 3}, mainDs,
      {type: 'logarithmic', min: MAIN_MIN, max: MAIN_MAX},
      {kind: 'main', yLabels: c === 0, xLabels: false, z: zcutLabels[r], b: betaLabels[c]});
    // ratio panel
    const rds = [];
    rds.push({data: bandPoints(bandData[r][c], -1), borderWidth: 0, pointRadius: 0, fill: false, order: 9});
    rds.push({data: bandPoints(bandData[r][c], 1), borderWidth: 0, pointRadius: 0, fill: '-1', backgroundColor: '#FFFF00', order: 8});
    rds.push(lineDs([{x: 0, y: 1}, {x: TAU_MAX, y: 1}], '#000', [], 7, 1));
    for (let k = 0; k < 5; k++) rds.push(lineDs(histPoints(ratioData[r][c][k]), COLORS[k], DASHES[k], ORDERS[k], k === 1 ? 1.4 : LW));
    rds.push(lineDs(errPoints(ratioData[r][c][3], errData[r]), COLORS[3], [], 1, 1.6));
    makeChart(left, ROW_TOP[r] + MAIN_H, PANEL_W, RATIO_H, {l: padL, r: padR, t: 3, b: r === 3 ? 38 : 3}, rds,
      {type: 'linear', min: RATIO_MIN, max: RATIO_MAX},
      {kind: 'ratio', yLabels: c === 0, xLabels: r === 3});
  }
}
</script>
</body></html>
